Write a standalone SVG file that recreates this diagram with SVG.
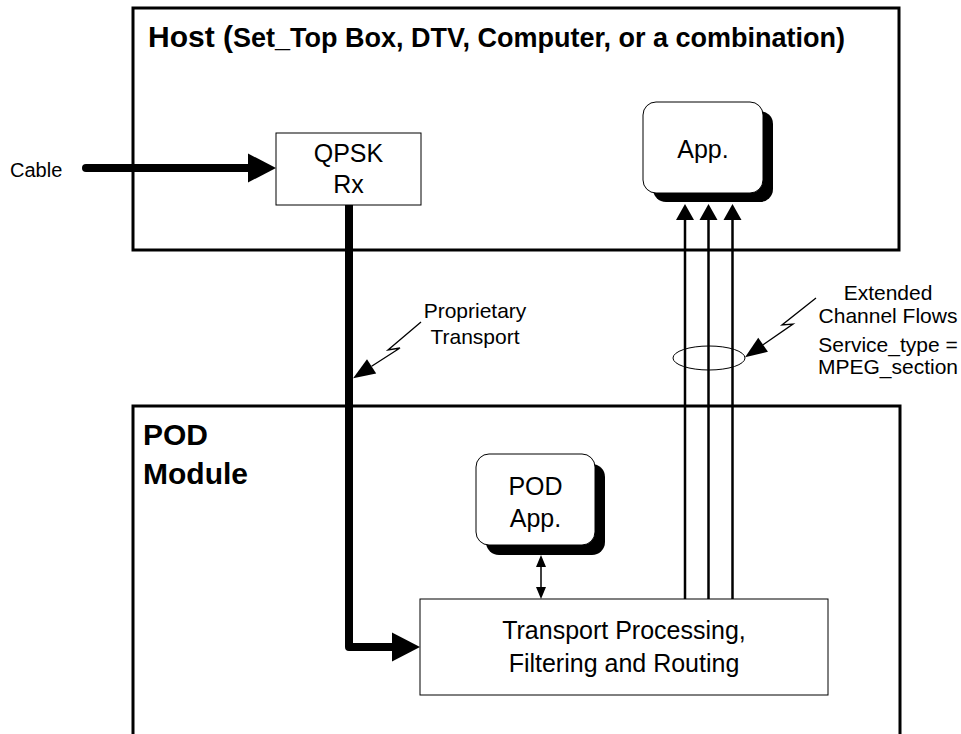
<svg xmlns="http://www.w3.org/2000/svg" width="961" height="734" viewBox="0 0 961 734">
<style>
  .frame { fill: none; stroke: #000; stroke-width: 3; }
  .box { fill: #fff; stroke: #000; stroke-width: 1; }
  .shadow { fill: #000; stroke: none; }
  .t { font-family: "Liberation Sans", Arial, sans-serif; fill: #000; }
  .lbl { font-size: 25px; text-anchor: middle; }
  .note { font-size: 21px; text-anchor: middle; }
  .title { font-weight: bold; }
  .thick { fill: none; stroke: #000; stroke-width: 8; stroke-linejoin: round; }
  .flow { fill: none; stroke: #000; stroke-width: 2.5; }
  .thin { fill: none; stroke: #000; stroke-width: 1.5; }
  .bolt { fill: none; stroke: #000; stroke-width: 1.3; stroke-linejoin: miter; }
</style>
<defs>
  <marker id="bigArrow" markerUnits="userSpaceOnUse" markerWidth="28" markerHeight="29" refX="0" refY="14.5" orient="auto" overflow="visible">
    <path d="M0,0 L28,14.5 L0,29 Z" fill="#000"/>
  </marker>
  <marker id="flowArrow" markerUnits="userSpaceOnUse" markerWidth="16" markerHeight="18" refX="0" refY="9" orient="auto" overflow="visible">
    <path d="M0,0 L16,9 L0,18 Z" fill="#000"/>
  </marker>
  <marker id="smallArrow" markerUnits="userSpaceOnUse" markerWidth="12" markerHeight="10" refX="0" refY="5" orient="auto-start-reverse" overflow="visible">
    <path d="M0,0 L12,5 L0,10 Z" fill="#000"/>
  </marker>
  <marker id="boltArrow" markerUnits="userSpaceOnUse" markerWidth="22" markerHeight="17" refX="0" refY="8.5" orient="auto" overflow="visible">
    <path d="M0,0 L22,8.5 L0,17 Z" fill="#000"/>
  </marker>
</defs>

<g id="host">
  <rect class="frame" x="133" y="8" width="766" height="242"/>
  <text class="t title" x="148" y="47"><tspan font-size="30">Host (</tspan><tspan font-size="27">Set_Top Box, DTV, Computer, or a combination)</tspan></text>
</g>

<g id="pod-module">
  <path class="frame" d="M133,734 V406 H900 V734"/>
  <text class="t title" font-size="30" x="143" y="445">POD</text>
  <text class="t title" font-size="30" x="143" y="484">Module</text>
</g>

<g id="connectors">
  <path class="thick" stroke-linecap="round" d="M86,168 H248" marker-end="url(#bigArrow)"/>
  <path class="thick" d="M349,205 V647 H392" marker-end="url(#bigArrow)"/>
  <line class="flow" x1="685" y1="599" x2="685" y2="220" marker-end="url(#flowArrow)"/>
  <line class="flow" x1="708.5" y1="599" x2="708.5" y2="220" marker-end="url(#flowArrow)"/>
  <line class="flow" x1="732.5" y1="599" x2="732.5" y2="220" marker-end="url(#flowArrow)"/>
  <line class="thin" x1="541" y1="567" x2="541" y2="587" marker-start="url(#smallArrow)" marker-end="url(#smallArrow)"/>
  <ellipse cx="709" cy="358" rx="36" ry="12" fill="none" stroke="#000" stroke-width="1"/>
  <polyline class="bolt" points="421,322 388,350 400,348 371.6,366.3" marker-end="url(#boltArrow)"/>
  <polyline class="bolt" points="816,298 782,325 793,324 763.1,344.8" marker-end="url(#boltArrow)"/>
</g>

<g id="cable">
  <text class="t" font-size="20" x="10" y="177">Cable</text>
</g>

<g id="qpsk-rx">
  <rect class="box" x="276" y="133" width="145" height="72"/>
  <text class="t lbl" x="348.5" y="162">QPSK</text>
  <text class="t lbl" x="348.5" y="193">Rx</text>
</g>

<g id="app">
  <rect class="shadow" x="653" y="111" width="120" height="91" rx="13"/>
  <rect class="box" x="643" y="102" width="120" height="91" rx="13"/>
  <text class="t lbl" x="703" y="158">App.</text>
</g>

<g id="pod-app">
  <rect class="shadow" x="486" y="464" width="119" height="91" rx="13"/>
  <rect class="box" x="476" y="454" width="119" height="91" rx="13"/>
  <text class="t lbl" x="535.5" y="495">POD</text>
  <text class="t lbl" x="535.5" y="527">App.</text>
</g>

<g id="transport">
  <rect class="box" x="420" y="599" width="408" height="96"/>
  <text class="t lbl" x="624" y="639">Transport Processing,</text>
  <text class="t lbl" x="624" y="672">Filtering and Routing</text>
</g>

<g id="proprietary-label">
  <text class="t note" x="475" y="318">Proprietary</text>
  <text class="t note" x="475" y="344">Transport</text>
</g>

<g id="extended-label">
  <text class="t note" x="888" y="300">Extended</text>
  <text class="t note" x="888" y="323">Channel Flows</text>
  <text class="t note" x="888" y="352">Service_type =</text>
  <text class="t note" x="888" y="374">MPEG_section</text>
</g>
</svg>
